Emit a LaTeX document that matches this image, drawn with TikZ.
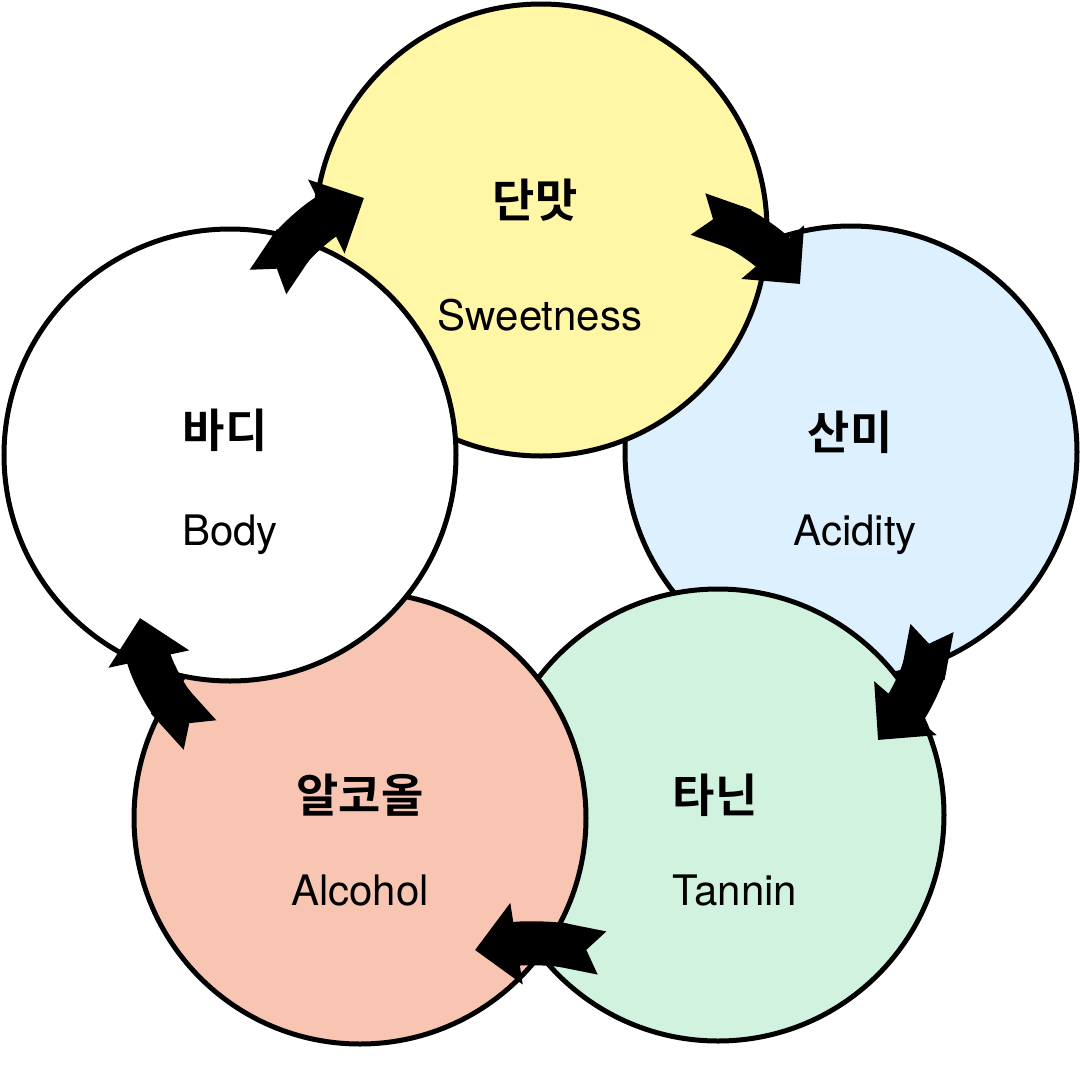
\documentclass[tikz,border=0pt]{standalone}
\usepackage{fontspec}
\setmainfont{TeX Gyre Heros}
\newfontfamily\krb{Noto Sans CJK KR Bold}
\usetikzlibrary{arrows.meta}
\definecolor{cy}{HTML}{FFF6A6}
\definecolor{cb}{HTML}{DDF0FD}
\definecolor{cg}{HTML}{D1F2DF}
\definecolor{cs}{HTML}{F8C5B2}
\begin{document}
\begin{tikzpicture}[x=1pt,y=-1pt,
  circ/.style={circle,draw=black,line width=5pt,minimum size=452pt,inner sep=0pt},
  kr/.style={font=\krb\fontsize{46}{50}\selectfont},
  en/.style={font=\fontsize{42}{46}\selectfont},
  arr/.style={line width=44pt,{Triangle Cap[reversed,length=16pt]}-{Triangle[length=42pt,width=80pt]}}]
\useasboundingbox (0,0) rectangle (1080,1080);
\fill[white] (0,0) rectangle (1080,1080);
\node[circ,fill=cb] (aci) at (851,452) {};
\node[circ,fill=cg] (tan) at (718,815) {};
\node[circ,fill=cs] (alc) at (360,818) {};
\node[circ,fill=cy] (swe) at (541,230) {};
\node[circ,fill=white] (bod) at (230,455) {};
\node[kr] (k1) at (535,200) {단맛};
\node[en] (e1) at (540,315) {Sweetness};
\node[kr] (k2) at (850,432) {산미};
\node[en] (e2) at (855,535) {Acidity};
\node[kr] (k3) at (715,795) {타닌};
\node[en] (e3) at (735,890) {Tannin};
\node[kr] (k4) at (360,795) {알코올};
\node[en] (e4) at (360,890) {Alcohol};
\node[kr] (k5) at (225,430) {바디};
\node[en] (e5) at (230,535) {Body};
\coordinate (a1s) at (268,282); \coordinate (a1e) at (364,198);
\coordinate (a2s) at (698,214); \coordinate (a2e) at (800,284);
\coordinate (a3s) at (932,628); \coordinate (a3e) at (878,740);
\coordinate (a4s) at (602,953); \coordinate (a4e) at (475,950);
\coordinate (a5s) at (200,735); \coordinate (a5e) at (140,618);
\draw[arr] (a1s) to[bend left=15] (a1e);
\draw[arr] (a2s) to[bend left=15] (a2e);
\draw[arr] (a3s) to[bend left=15] (a3e);
\draw[arr] (a4s) to[bend right=10] (a4e);
\draw[arr] (a5s) to[bend left=15] (a5e);
\end{tikzpicture}
\end{document}
